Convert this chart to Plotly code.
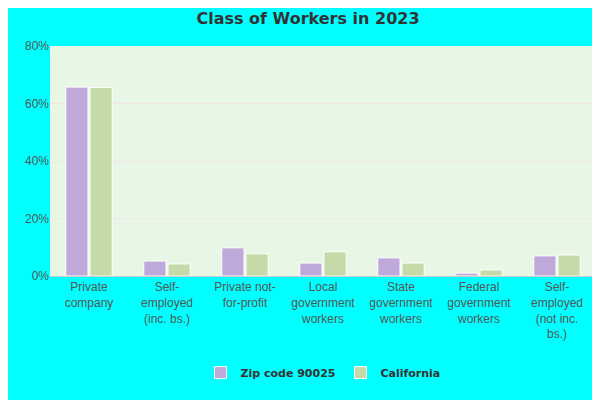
import plotly.graph_objects as go

categories = ["Private<br>company", "Self-<br>employed<br>(inc. bs.)", "Private not-<br>for-profit",
              "Local<br>government<br>workers", "State<br>government<br>workers",
              "Federal<br>government<br>workers", "Self-<br>employed<br>(not inc.<br>bs.)"]
zip_vals = [65.7, 5.2, 9.8, 4.5, 6.3, 1.0, 7.0]
ca_vals = [65.6, 4.2, 7.7, 8.4, 4.5, 2.1, 7.3]

fig = go.Figure()
fig.add_trace(go.Bar(x=categories, y=zip_vals, name="<b>Zip code 90025</b>",
                     marker=dict(color="#bfa8da", line=dict(color="white", width=1))))
fig.add_trace(go.Bar(x=categories, y=ca_vals, name="<b>California</b>",
                     marker=dict(color="#c5daa9", line=dict(color="white", width=1))))

fig.update_layout(
    width=600, height=400,
    paper_bgcolor="#00ffff", plot_bgcolor="#e8f6e6",
    title=dict(text="<b>Class of Workers in 2023</b>", x=0.5, y=0.975, yanchor="middle",
               font=dict(family="DejaVu Sans", size=16, color="#333")),
    margin=dict(l=42, r=12, t=38, b=132),
    bargap=0.38, bargroupgap=0.08,
    font=dict(family="Liberation Sans", size=12, color="#555"),
    legend=dict(orientation="h", x=0.5, xanchor="center", y=-0.42, yanchor="middle",
                font=dict(family="DejaVu Sans", size=11, color="#333")),
    showlegend=True,
)
fig.update_yaxes(range=[0, 80], ticksuffix="%", dtick=20, gridcolor="#f0e8e8",
                 zeroline=False, showline=False)
fig.update_xaxes(showline=True, linecolor="#ccc", ticks="")
fig.write_html("out.html")
